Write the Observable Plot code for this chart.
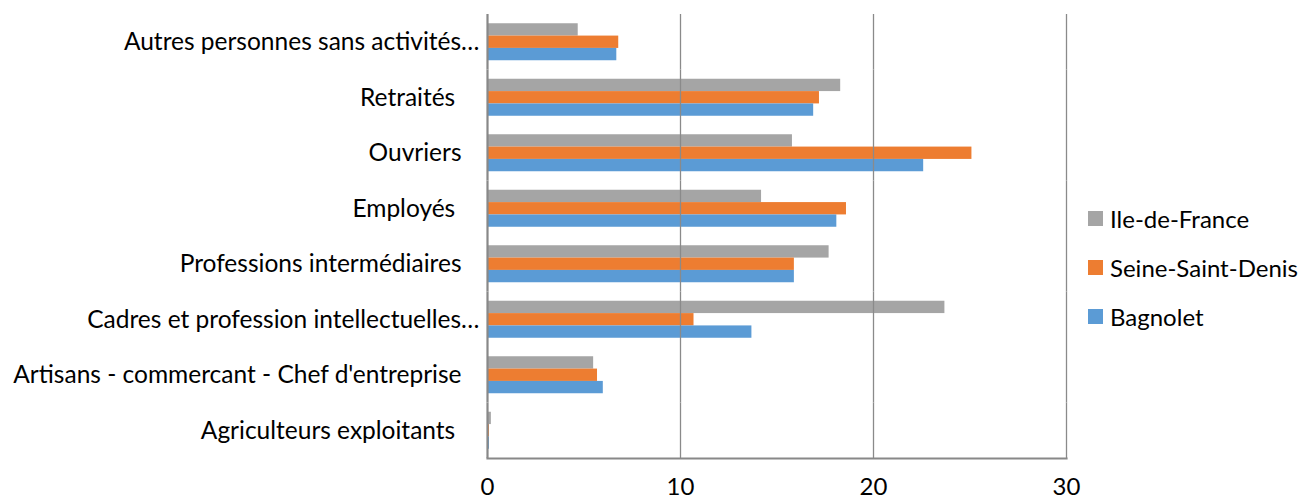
<!DOCTYPE html>
<html><head><meta charset="utf-8">
<script src="https://cdn.jsdelivr.net/npm/d3@7"></script>
<script src="https://cdn.jsdelivr.net/npm/@observablehq/plot@0.6"></script>
<style>
body{margin:0;background:#fff;}
#wrap{position:relative;width:1301px;height:502px;font-family:Lato,sans-serif;}
#wrap svg text{white-space:pre;}
#legend{position:absolute;left:1088px;top:194px;font-family:Lato,sans-serif;}
.row{display:flex;align-items:center;height:49px;font-size:24px;color:#000;}
.sw{width:15px;height:15px;margin-right:7px;}
</style></head><body>
<div id="wrap"></div>
<script>
const categories = ["Autres personnes sans activités…","Retraités ","Ouvriers","Employés ","Professions intermédiaires","Cadres et profession intellectuelles…","Artisans - commercant - Chef d'entreprise","Agriculteurs exploitants "];
const series = ["Ile-de-France","Seine-Saint-Denis","Bagnolet"];
const ileDeFrance = [4.7,18.3,15.8,14.2,17.7,23.7,5.5,0.2];
const seineSaintDenis = [6.8,17.2,25.1,18.6,15.9,10.7,5.7,0.1];
const bagnolet = [6.7,16.9,22.6,18.1,15.9,13.7,6.0,0.1];
const colors = ["#A5A5A5","#ED7D31","#5B9BD5"];
const xTicks = [0,10,20,30];

const values = [ileDeFrance, seineSaintDenis, bagnolet];
const data = categories.flatMap((c,i) => series.map((s,j) => ({category:c, series:s, value:values[j][i]})));
const truncated = categories.filter(c => c.endsWith("…"));
const full = categories.filter(c => !c.endsWith("…"));

const chart = Plot.plot({
  width: 1301, height: 502,
  marginLeft: 487, marginRight: 235, marginTop: 14, marginBottom: 44,
  style: {fontFamily: "Lato, sans-serif", color: "#000", background: "#fff"},
  x: {domain: [0,30], axis: null},
  y: {domain: series, paddingInner: 0, paddingOuter: 0.75, round: false, axis: null},
  fy: {domain: categories, padding: 0, round: false, axis: null},
  color: {domain: series, range: colors},
  marks: [
    Plot.barX(data, {x: "value", y: "series", fy: "category", fill: "series"}),
    Plot.ruleX(xTicks.slice(1), {stroke: "#8a8a8a", strokeWidth: 1.3}),
    Plot.ruleX([0], {stroke: "#888", strokeWidth: 2.2}),
    Plot.frame({anchor: "bottom", stroke: "#888", strokeWidth: 2.2, facet: "super"}),
    Plot.axisX(xTicks, {tickSize: 0, tickPadding: 19, fontSize: 24, label: null, fill: "#000"}),
    Plot.text(truncated, {fy: d => d, text: d => d, frameAnchor: "left", textAnchor: "end", dx: -8, fontSize: 24.5, fill: "#000"}),
    Plot.text(full, {fy: d => d, text: d => d, frameAnchor: "left", textAnchor: "end", dx: -26, fontSize: 24.5, fill: "#000"})
  ]
});
const wrap = document.getElementById("wrap");
wrap.appendChild(chart);
const legend = document.createElement("div");
legend.id = "legend";
series.forEach((s,i) => {
  const row = document.createElement("div");
  row.className = "row";
  const sw = document.createElement("div");
  sw.className = "sw";
  sw.style.background = colors[i];
  const t = document.createElement("span");
  t.textContent = s;
  row.appendChild(sw); row.appendChild(t);
  legend.appendChild(row);
});
wrap.appendChild(legend);
</script>
</body></html>
